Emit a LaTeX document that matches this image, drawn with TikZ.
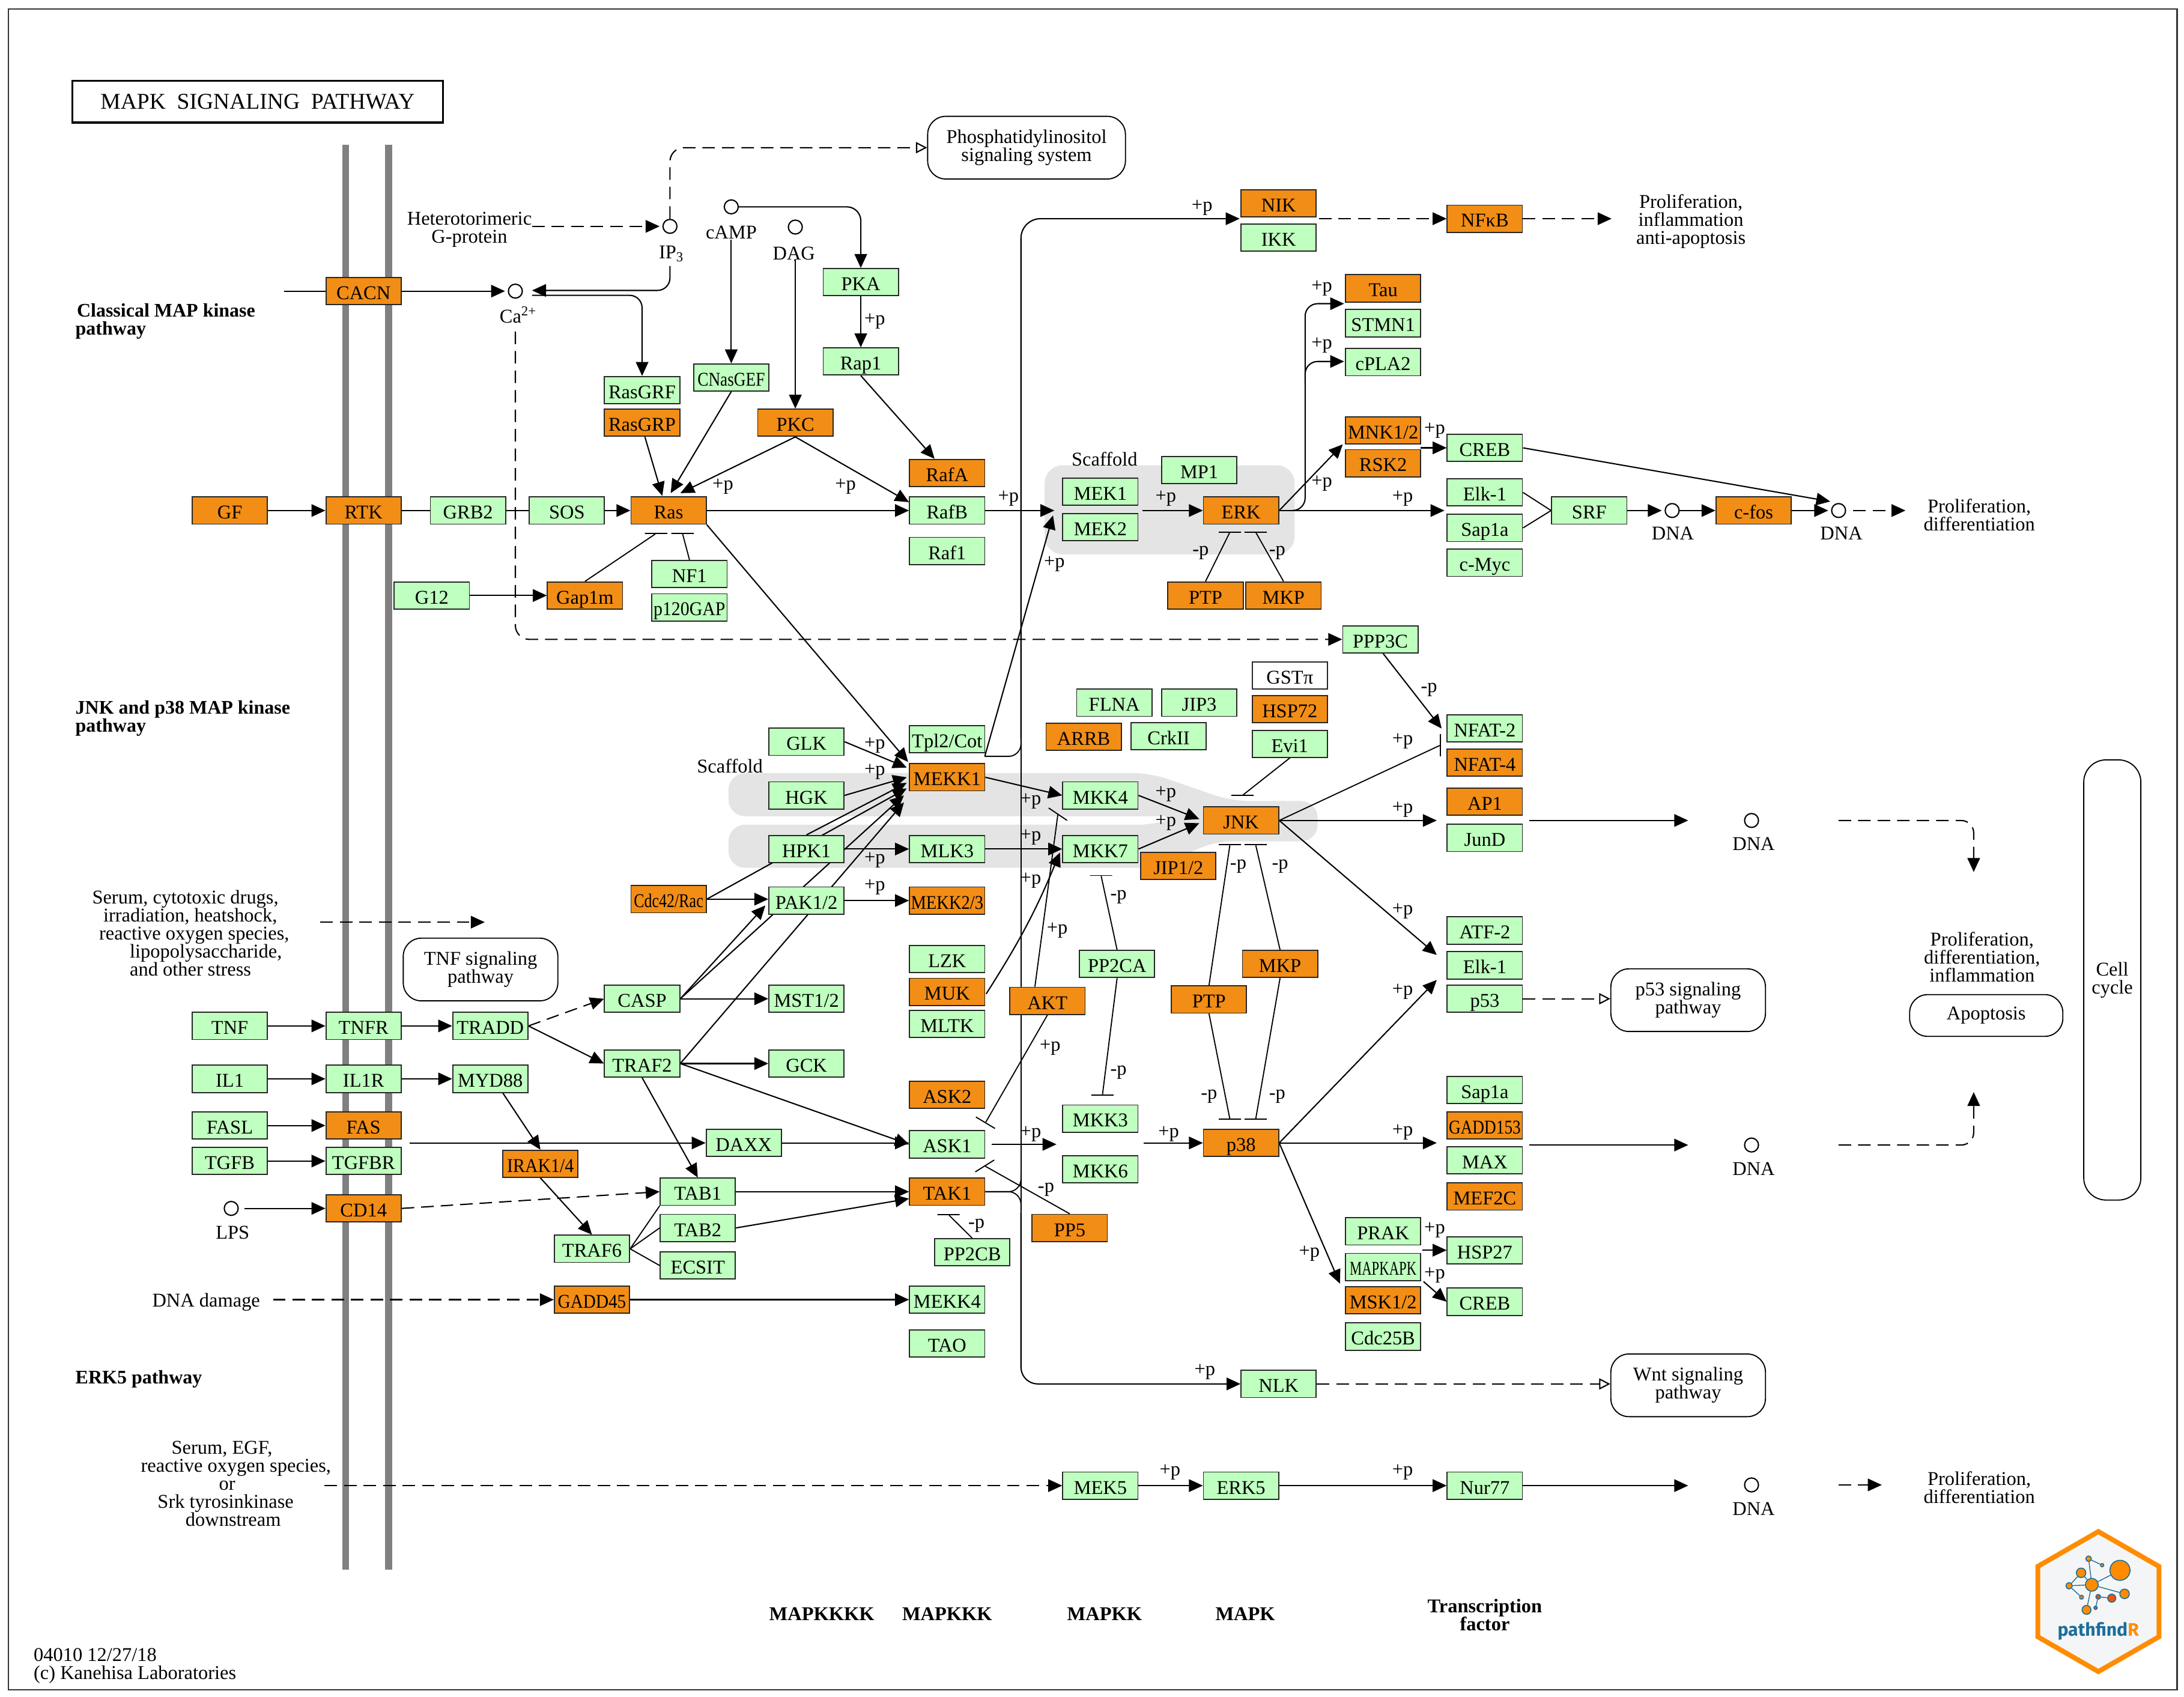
\documentclass[tikz,border=0pt]{standalone}
\usepackage{fontspec}
\setmainfont{Liberation Serif}
\newfontfamily\logofont{Fira Sans}
\usetikzlibrary{
    arrows.meta,
    backgrounds,
    calc}
\definecolor{keggorange}{HTML}{F28D16}
\definecolor{kegggreen}{HTML}{BFFFBF}
\definecolor{scaffoldgray}{HTML}{E4E4E4}
\definecolor{membranegray}{HTML}{808080}
\definecolor{logoorange}{HTML}{FF8C00}
\definecolor{logored}{HTML}{F4510B}
\definecolor{logoblue}{HTML}{1C6E99}
\definecolor{logopale}{HTML}{F4F5F7}
\newcommand{\sqz}[2]{\scalebox{#1}[1]{#2}}
\tikzset{gene/.style={draw=black!85, line width=0.8pt, minimum width=54pt, minimum height=19.5pt, inner sep=0pt,
            font=\fontsize{14}{14}\selectfont, text height=12pt, text depth=0pt}}
\tikzset{gr/.style={gene, fill=kegggreen}}
\tikzset{og/.style={gene, fill=keggorange}}
\tikzset{cpd/.style={draw, circle, minimum size=10pt, inner sep=0pt, line width=0.9pt, fill=white}}
\tikzset{lab/.style={inner sep=0pt, align=center, font=\fontsize{14}{12.9}\selectfont}}
\tikzset{hdr/.style={inner sep=0pt, align=left, anchor=west, font=\fontsize{13.8}{12.9}\selectfont\bfseries}}
\tikzset{clm/.style={lab, font=\fontsize{14}{13}\selectfont\bfseries}}
\tikzset{pth/.style={draw, rounded corners=13pt, fill=white, inner sep=0pt, align=center, line width=0.8pt,
            font=\fontsize{14}{12.9}\selectfont}}
\tikzset{tbar/.style={draw, rectangle, minimum width=16pt, minimum height=0pt, inner sep=0pt, line width=0.8pt}}
\tikzset{lin/.style={line width=0.8pt}}
\tikzset{act/.style={-{Triangle[length=10pt,width=9pt]}, line width=0.9pt}}
\tikzset{actd/.style={act, line width=0.9pt, dash pattern=on 9pt off 5pt}}
\tikzset{opn/.style={-{Triangle[open,length=8pt,width=8pt]}, line width=0.9pt, dash pattern=on 9pt off 5pt}}
\tikzset{lgo/.style={draw=logoblue, line width=0.7pt, circle, inner sep=0pt, fill=logoorange}}
\tikzset{lgr/.style={lgo, fill=logored}}
\begin{document}
\begin{tikzpicture}[x=1pt, y=-1pt]
    \useasboundingbox (0,0) rectangle (1568,1218);

    % title
    \node(title)[draw, line width=1.6pt, minimum width=266pt, minimum height=30pt, font=\fontsize{16.2}{16.2}\selectfont] at (185,73){MAPK\ \ SIGNALING\ \ PATHWAY\hspace{11pt}};

    % classical row
    \node(CACN)[og] at (261,209){CACN};
    \node(GF)[og] at (165,366.5){GF};
    \node(RTK)[og] at (261,366.5){RTK};
    \node(GRB2)[gr] at (336,366.5){GRB2};
    \node(SOS)[gr] at (407,366.5){SOS};
    \node(Ras)[og] at (480,366.5){Ras};
    \node(RasGRF)[gr] at (461,280){RasGRF};
    \node(RasGRP)[og] at (461,303.5){RasGRP};
    \node(CNasGEF)[gr] at (525,271){\sqz{0.84}{CNasGEF}};
    \node(PKC)[og] at (571,303.5){PKC};
    \node(PKA)[gr] at (618,202.5){PKA};
    \node(Rap1)[gr] at (618,259.5){Rap1};
    \node(RafA)[og] at (680,339.5){RafA};
    \node(RafB)[gr] at (680,366.5){RafB};
    \node(Raf1)[gr] at (680,395.5){Raf1};
    \node(G12)[gr] at (310,427.5){G12};
    \node(Gap1m)[og] at (420,427.5){Gap1m};
    \node(NF1)[gr] at (495,412){NF1};
    \node(p120GAP)[gr] at (495,436){\sqz{0.92}{p120GAP}};
    \node(MEK1)[gr] at (790,353){MEK1};
    \node(MEK2)[gr] at (790,378.5){MEK2};
    \node(MP1)[gr] at (861,337.5){MP1};
    \node(ERK)[og] at (891,366.5){ERK};
    \node(PTPa)[og] at (865.5,427.5){PTP};
    \node(MKPa)[og] at (921.5,427.5){MKP};
    \node(NIK)[og] at (918,146){NIK};
    \node(IKK)[gr] at (918,170.5){IKK};
    \node(NFkB)[og] at (1066,157){NFκB};
    \node(Tau)[og] at (993,207){Tau};
    \node(STMN1)[gr] at (993,232){STMN1};
    \node(cPLA2)[gr] at (993,260){cPLA2};
    \node(MNK)[og] at (993,309){MNK1/2};
    \node(RSK2)[og] at (993,332.5){RSK2};
    \node(CREBa)[gr] at (1066,321.5){CREB};
    \node(ElkA)[gr] at (1066,353.5){Elk-1};
    \node(SapA)[gr] at (1066,379){Sap1a};
    \node(cMyc)[gr] at (1066,404){c-Myc};
    \node(SRF)[gr] at (1141,366.5){SRF};
    \node(cfos)[og] at (1259,366.5){c-fos};
    \node(PPP3C)[gr] at (991,459){PPP3C};

    % JNK and p38 part
    \node(NFATb)[gr] at (1066,523){NFAT-2};
    \node(NFATd)[og] at (1066,547.5){NFAT-4};
    \node(AP1)[og] at (1066,575.5){AP1};
    \node(JunD)[gr] at (1066,601.5){JunD};
    \node(GST)[gene, fill=white] at (926,485){GSTπ};
    \node(HSP72)[og] at (926,509){HSP72};
    \node(Evi1)[gr] at (926,534){Evi1};
    \node(FLNA)[gr] at (800,504.5){FLNA};
    \node(JIP3)[gr] at (861,504.5){JIP3};
    \node(ARRB)[og] at (778,529){ARRB};
    \node(CrkII)[gr] at (839,528.5){CrkII};
    \node(GLK)[gr] at (579,532.5){GLK};
    \node(HGK)[gr] at (579,571){HGK};
    \node(HPK1)[gr] at (579,609.5){HPK1};
    \node(Tpl2)[gr] at (680,530.5){Tpl2/Cot};
    \node(MEKK1)[og] at (680,558){MEKK1};
    \node(MLK3)[gr] at (680,609.5){MLK3};
    \node(MKK4)[gr] at (790,571){MKK4};
    \node(MKK7)[gr] at (790,609.5){MKK7};
    \node(JNK)[og] at (891,589){JNK};
    \node(JIP12)[og] at (846,621.5){JIP1/2};
    \node(Cdc42)[og] at (480,645.5){\sqz{0.8}{Cdc42/Rac}};
    \node(PAK)[gr] at (579,646.5){PAK1/2};
    \node(MEKK23)[og] at (680,646.5){\sqz{0.88}{MEKK2/3}};
    \node(LZK)[gr] at (680,688.5){LZK};
    \node(MUK)[og] at (680,712){MUK};
    \node(MLTK)[gr] at (680,735){MLTK};
    \node(AKT)[og] at (752,718.5){AKT};
    \node(PP2CA)[gr] at (802,692){PP2CA};
    \node(PTPb)[og] at (868,717.5){PTP};
    \node(MKPb)[og] at (919,692){MKP};
    \node(TNF)[gr] at (165,736.5){TNF};
    \node(TNFR)[gr] at (261,736.5){TNFR};
    \node(TRADD)[gr] at (352,736.5){TRADD};
    \node(CASP)[gr] at (461,717){CASP};
    \node(MST)[gr] at (579,717){MST1/2};
    \node(TRAF2)[gr] at (461,763.5){TRAF2};
    \node(GCK)[gr] at (579,763.5){GCK};
    \node(IL1)[gr] at (165,774.5){IL1};
    \node(IL1R)[gr] at (261,774.5){IL1R};
    \node(MYD88)[gr] at (352,774.5){MYD88};
    \node(FASL)[gr] at (165,808){FASL};
    \node(FAS)[og] at (261,808){FAS};
    \node(TGFB)[gr] at (165,833.5){TGFB};
    \node(TGFBR)[gr] at (261,833.5){TGFBR};
    \node(IRAK)[og] at (388,835.5){\sqz{0.92}{IRAK1/4}};
    \node(DAXX)[gr] at (534,820.5){DAXX};
    \node(ASK2)[og] at (680,786){ASK2};
    \node(ASK1)[gr] at (680,821.5){ASK1};
    \node(TAK1)[og] at (680,855.5){TAK1};
    \node(MKK3)[gr] at (790,803){MKK3};
    \node(MKK6)[gr] at (790,839.5){MKK6};
    \node(p38)[og] at (891,820.5){p38};
    \node(PP5)[og] at (768,881.5){PP5};
    \node(PP2CB)[gr] at (698,899){PP2CB};
    \node(CD14)[og] at (261,867.5){CD14};
    \node(TAB1)[gr] at (501,855.5){TAB1};
    \node(TAB2)[gr] at (501,881.5){TAB2};
    \node(ECSIT)[gr] at (501,908.5){ECSIT};
    \node(TRAF6)[gr] at (425,896.5){TRAF6};
    \node(GADD45)[og] at (425,933){\sqz{0.9}{GADD45}};
    \node(MEKK4)[gr] at (680,933){MEKK4};
    \node(TAO)[gr] at (680,964.5){TAO};
    \node(NLK)[gr] at (918,993.5){NLK};
    \node(ATF2)[gr] at (1066,668){ATF-2};
    \node(ElkB)[gr] at (1066,693){Elk-1};
    \node(p53)[gr] at (1066,717){p53};
    \node(SapB)[gr] at (1066,782.5){Sap1a};
    \node(GADD153)[og] at (1066,808){\sqz{0.84}{GADD153}};
    \node(MAX)[gr] at (1066,833){MAX};
    \node(MEF2C)[og] at (1066,859){MEF2C};
    \node(PRAK)[gr] at (993,884){PRAK};
    \node(MAPKAPK)[gr] at (993,909.5){\sqz{0.7}{MAPKAPK}};
    \node(MSK)[og] at (993,933.5){MSK1/2};
    \node(Cdc25B)[gr] at (993,959.5){Cdc25B};
    \node(HSP27)[gr] at (1066,897.5){HSP27};
    \node(CREBb)[gr] at (1066,934.5){CREB};

    % ERK5 part
    \node(MEK5)[gr] at (790,1066.5){MEK5};
    \node(ERK5)[gr] at (891,1066.5){ERK5};
    \node(Nur77)[gr] at (1066,1066.5){Nur77};

    % other pathways
    \node(Phos)[pth, minimum width=142pt, minimum height=45pt] at (737,106){Phosphatidylinositol\\signaling system};
    \node(TNFpth)[pth, minimum width=111pt, minimum height=45pt] at (345,696){TNF signaling\\pathway};
    \node(p53pth)[pth, minimum width=111pt, minimum height=45pt] at (1212,718){p53 signaling\\pathway};
    \node(Wntpth)[pth, minimum width=111pt, minimum height=45pt] at (1212,994.5){Wnt signaling\\pathway};
    \node(Apo)[pth, minimum width=110pt, minimum height=30pt] at (1426,729){Apoptosis};
    \node(Cycle)[pth, rounded corners=16pt, minimum width=41pt, minimum height=316pt] at (1516.5,703.5){Cell\\cycle};

    % compounds
    \node(IP3)[cpd] at (481,162.5){};
    \node(IP3lab)[lab] at (482,182){IP\textsubscript{3}};
    \node(Ca)[cpd] at (370,209){};
    \node(Calab)[lab] at (372,226){Ca\textsuperscript{2+}};
    \node(cAMP)[cpd] at (525,148.5){};
    \node(cAMPlab)[lab] at (525,167){cAMP};
    \node(DAG)[cpd] at (571,163){};
    \node(DAGlab)[lab] at (570,182){DAG};
    \node(dnaA)[cpd] at (1200.5,366.5){};
    \node(dnaAlab)[lab] at (1201,383){DNA};
    \node(dnaB)[cpd] at (1320,366.5){};
    \node(dnaBlab)[lab] at (1322,383){DNA};
    \node(dnaC)[cpd] at (1257.5,589){};
    \node(dnaClab)[lab] at (1259,606){DNA};
    \node(dnaD)[cpd] at (1257.5,822){};
    \node(dnaDlab)[lab] at (1259,839){DNA};
    \node(dnaE)[cpd] at (1257.5,1066){};
    \node(dnaElab)[lab] at (1259,1083){DNA};
    \node(LPS)[cpd] at (166,867.5){};
    \node(LPSlab)[lab] at (167,885){LPS};

    % texts
    \node(HetG)[lab] at (337,165){Heterotorimeric\\G-protein};
    \node(prA)[lab] at (1214,159){Proliferation,\\inflammation\\anti-apoptosis};
    \node(prB)[lab] at (1421,369.5){Proliferation,\\differentiation};
    \node(prC)[lab] at (1423,687){Proliferation,\\differentiation,\\inflammation};
    \node(prD)[lab] at (1421,1068){Proliferation,\\differentiation};
    \node(stress)[lab, align=left, anchor=west] at (66,670){Serum, cytotoxic drugs,\\\hspace{8pt}irradiation, heatshock,\\\hspace{5pt}reactive oxygen species,\\\hspace{27pt}lipopolysaccharide,\\\hspace{27pt}and other stress};
    \node(damage)[lab] at (148,935){DNA damage};
    \node(serum)[lab, align=left, anchor=west] at (101,1065){\hspace{22pt}Serum, EGF,\\reactive oxygen species,\\\hspace{56pt}or\\\hspace{12pt}Srk tyrosinkinase\\\hspace{32pt}downstream};
    \node(scafA)[lab] at (793,329.5){Scaffold};
    \node(scafB)[lab] at (524,550){Scaffold};
    \node(hdrA)[hdr] at (54,230.5){\hspace{1pt}Classical MAP kinase\\pathway};
    \node(hdrB)[hdr] at (54,515.5){JNK and p38 MAP kinase\\pathway};
    \node(hdrC)[hdr] at (54,990){ERK5 pathway};
    \node(colA)[clm] at (590,1158.5){MAPKKKK};
    \node(colB)[clm] at (680,1158.5){MAPKKK};
    \node(colC)[clm] at (793,1158.5){MAPKK};
    \node(colD)[clm] at (894,1158.5){MAPK};
    \node(colE)[clm] at (1066,1159.5){Transcription\\factor};
    \node(stamp)[lab, align=left, anchor=west] at (24,1196){04010 12/27/18\\(c) Kanehisa Laboratories};

    % phosphorylation marks
    \node(pa)[lab] at (519,349){+p};
    \node(pb)[lab] at (607,349){+p};
    \node(pc)[lab] at (724,358){+p};
    \node(pd)[lab] at (757,405){+p};
    \node(pe)[lab] at (628,230.5){+p};
    \node(pf)[lab] at (863,149){+p};
    \node(pg)[lab] at (837,358){+p};
    \node(ph)[lab] at (1007,358){+p};
    \node(pi)[lab] at (1030,309){+p};
    \node(pj)[lab] at (949,207){+p};
    \node(pk)[lab] at (949,248){+p};
    \node(pl)[lab] at (949,347){+p};
    \node(pm)[lab] at (628,535){+p};
    \node(pn)[lab] at (628,554){+p};
    \node(po)[lab] at (628,617.5){+p};
    \node(pq)[lab] at (628,637){+p};
    \node(pr)[lab] at (740,575){+p};
    \node(ps)[lab] at (740,601){+p};
    \node(pt)[lab] at (740,632){+p};
    \node(pu)[lab] at (759,668){+p};
    \node(pv)[lab] at (754,752){+p};
    \node(pw)[lab] at (837,570){+p};
    \node(px)[lab] at (837,590.5){+p};
    \node(py)[lab] at (1007,532){+p};
    \node(pz)[lab] at (1007,581){+p};
    \node(paa)[lab] at (1007,654){+p};
    \node(pab)[lab] at (1007,712){+p};
    \node(pac)[lab] at (1007,813){+p};
    \node(pad)[lab] at (740,814){+p};
    \node(pae)[lab] at (839,814){+p};
    \node(paf)[lab] at (940,900){+p};
    \node(pag)[lab] at (1030,883){+p};
    \node(pah)[lab] at (1030,915.5){+p};
    \node(pai)[lab] at (865,985){+p};
    \node(paj)[lab] at (840,1057){+p};
    \node(pak)[lab] at (1007,1057){+p};

    % dephosphorylation marks
    \node(ma)[lab] at (862,397){-p};
    \node(mb)[lab] at (917,397){-p};
    \node(mc)[lab] at (1026,495){-p};
    \node(md)[lab] at (889,622){-p};
    \node(me)[lab] at (919,622){-p};
    \node(mf)[lab] at (803,644){-p};
    \node(mg)[lab] at (803,770){-p};
    \node(mh)[lab] at (868,787){-p};
    \node(mi)[lab] at (917,787){-p};
    \node(mj)[lab] at (751,854){-p};
    \node(mk)[lab] at (701,880){-p};

    % inhibition bars
    \node(barRasA)[tbar] at (471,383){};
    \node(barRasB)[tbar] at (490,383){};
    \node(barErkA)[tbar] at (883,382){};
    \node(barErkB)[tbar] at (901.5,382){};
    \node(barJnkT)[tbar] at (892,571){};
    \node(barJnkA)[tbar] at (883,606.5){};
    \node(barJnkB)[tbar] at (901.5,606.5){};
    \node(barP38A)[tbar] at (883,803.5){};
    \node(barP38B)[tbar] at (901.5,803.5){};
    \node(barMkk7)[tbar] at (790.5,628.5){};
    \node(barMkk3)[tbar] at (791.5,786){};
    \node(barNfat)[tbar, rotate=90] at (1034,535){};
    \node(barTak)[tbar] at (681,872){};
    \node(barAskA)[tbar, rotate=-31] at (707.5,806){};
    \node(barAskB)[tbar, rotate=32] at (707,837){};
    \node(barAkt)[tbar, rotate=-34] at (759.5,584.5){};

    % free ends
    \coordinate(cacnIn) at (204,209);
    \coordinate(hetOut) at (382,162.5);
    \coordinate(ipDown) at (481,191);
    \coordinate(caTip) at (382,208.5);
    \coordinate(caOut) at (382,212);
    \coordinate(caDash) at (370,238);
    \coordinate(rasTipA) at (475.5,356);
    \coordinate(rasTipB) at (481.5,354);
    \coordinate(rasTipC) at (488.5,354);
    \coordinate(mekIn) at (757,366.5);
    \coordinate(mekInB) at (756,370);
    \coordinate(mekOut) at (820,366.5);
    \coordinate(erkOut) at (930,366.5);
    \coordinate(erkBusA) at (937,240);
    \coordinate(erkBusB) at (937,275);
    \coordinate(tauTip) at (965,218);
    \coordinate(cplaTip) at (965,259.5);
    \coordinate(mnkTip) at (964,319);
    \coordinate(tfTipA) at (1037,366.5);
    \coordinate(mnkOut) at (1020,321.5);
    \coordinate(fosTip) at (1314,360);
    \coordinate(nikTip) at (890,157);
    \coordinate(nikOut) at (947,157);
    \coordinate(prAin) at (1157,157);
    \coordinate(prBin) at (1368,366.5);
    \coordinate(tplOut) at (707,543);
    \coordinate(tplBus) at (733,530);
    \coordinate(takUp) at (733,842);
    \coordinate(takDown) at (733,870);
    \coordinate(mekkA) at (651,551);
    \coordinate(mekkB) at (651,558);
    \coordinate(mekkC) at (651,562);
    \coordinate(mekkD) at (651,566);
    \coordinate(mekkE) at (649,571);
    \coordinate(mekkF) at (649,576);
    \coordinate(mekkG) at (652,547);
    \coordinate(pakTip) at (549.5,650);
    \coordinate(mukOut) at (708,713.5);
    \coordinate(mkkTip) at (761,612);
    \coordinate(jnkTipA) at (861,588);
    \coordinate(jnkTipB) at (861,591);
    \coordinate(nfatTip) at (1035,523);
    \coordinate(jnOut) at (1031.5,589);
    \coordinate(jnOutB) at (1031.5,685.5);
    \coordinate(p38OutA) at (1031.5,703.5);
    \coordinate(p38OutB) at (1031.5,820.5);
    \coordinate(mskTip) at (962,921.5);
    \coordinate(dnaInA) at (1098,589);
    \coordinate(dnaEndA) at (1212,589);
    \coordinate(dnaInB) at (1098,822);
    \coordinate(dnaEndB) at (1212,822);
    \coordinate(apoOutA) at (1320,589);
    \coordinate(apoEndA) at (1417,626);
    \coordinate(apoOutB) at (1320,822);
    \coordinate(apoEndB) at (1417,784);
    \coordinate(stressOut) at (230,662);
    \coordinate(stressEnd) at (348,662);
    \coordinate(askOut) at (712,821.5);
    \coordinate(askEnd) at (758.5,821.5);
    \coordinate(p38In) at (821,820.5);
    \coordinate(fasOut) at (294,820.5);
    \coordinate(damOut) at (196,933);
    \coordinate(serOut) at (233,1066.5);
    \coordinate(nurOut) at (1093,1066.5);
    \coordinate(dnaEndC) at (1212,1066.5);
    \coordinate(prDout) at (1320,1066);
    \coordinate(prDin) at (1351,1066);
    \coordinate(prkOut) at (1021,897.5);
    \coordinate(prkOutB) at (1022,920);

    % logo
    \draw[line width=3.5pt, logoorange, fill=logopale, line join=miter] (1506.5,1099.5)--(1550,1124.5)--(1550,1175)--(1506.5,1200)--(1463,1175)--(1463,1124.5)--cycle;
    \node(logoA)[lgo, minimum size=14.4pt] at (1522,1127.3){};
    \node(logoB)[lgo, minimum size=9.2pt] at (1501.8,1137.7){};
    \node(logoC)[lgo, minimum size=6.8pt] at (1494.1,1129.1){};
    \node(logoD)[lgo, minimum size=4pt] at (1499.5,1119){};
    \node(logoE)[lgo, minimum size=2.4pt] at (1509.2,1123.6){};
    \node(logoF)[lgo, minimum size=4.6pt] at (1485.5,1138.4){};
    \node(logoG)[lgo, minimum size=2.8pt] at (1494.4,1146.6){};
    \node(logoH)[lgo, minimum size=6.4pt] at (1498,1155.7){};
    \node(logoI)[lgr, minimum size=2.4pt] at (1504.5,1154.2){};
    \node(logoJ)[lgr, minimum size=3.4pt] at (1506.4,1146.3){};
    \node(logoK)[lgr, minimum size=5.8pt] at (1516.1,1147.3){};
    \node(logoL)[lgo, minimum size=6.8pt] at (1525.3,1144.2){};
    \node(logoTxt)[inner sep=0pt, font=\logofont\bfseries\fontsize{13}{13}\selectfont] at (1506.4,1171){\textcolor{logoblue}{pathfind}\textcolor{logoorange}{R}};
    \draw[logoblue, line width=0.6pt] (logoB)--(logoA) (logoB)--(logoC) (logoB)--(logoD) (logoD)--(logoE) (logoB)--(logoF) (logoF)--(logoC) (logoF)--(logoG) (logoB)--(logoL) (logoB)--(logoH) (logoJ)--(logoK) (logoJ)--(logoI);

    \begin{scope}[on background layer]
        % frame
        \draw[line width=1pt, black!80, fill=white] (6,6.5) rectangle (1563,1213);

        % membrane
        \draw[membranegray, line width=4.8pt] (248,104)--(248,1127);
        \draw[membranegray, line width=4.8pt] (279,104)--(279,1127);

        % scaffolds
        \fill[scaffoldgray, rounded corners=13pt] (750,334) rectangle (929.5,398);
        \fill[scaffoldgray, rounded corners=12pt] (523,555)--(826,555)--(884,575)--(946,575)--(946,604)--(872,604)--(830,623)--(523,623)--(523,592)--(830,592)--(846,586)--(523,586)--cycle;

        % classical
        \draw[lin] (cacnIn)--(CACN);
        \draw[act, shorten >=2pt] (CACN)--(Ca);
        \draw[actd, shorten >=2pt] (hetOut)--(IP3);
        \draw[opn, rounded corners=10pt] (IP3.north) |- (Phos.west);
        \draw[act, rounded corners=9pt] (ipDown) |- (caTip);
        \draw[act, rounded corners=9pt] (caOut) -| (RasGRF.north);
        \draw[actd, rounded corners=10pt] (caDash) |- (PPP3C.west);
        \draw[act] (cAMPlab.south)--(CNasGEF.north);
        \draw[act, rounded corners=10pt] (cAMP.east) -| (PKA.north);
        \draw[act] (DAGlab.south)--(DAGlab.south-|PKC.north)--(PKC.north);
        \draw[act] (PKA)--(Rap1);
        \draw[act] (Rap1.south)--(RafA);
        \draw[act] ([xshift=2pt]RasGRP.south)--(rasTipA);
        \draw[act] (CNasGEF.south)--(rasTipB);
        \draw[act] (PKC.south)--(rasTipC);
        \draw[act] (PKC.south)--([yshift=6pt]RafB.west);
        \draw[act] (GF)--(RTK);
        \draw[lin] (RTK)--(GRB2);
        \draw[lin] (GRB2)--(SOS);
        \draw[act] (SOS)--(Ras);
        \draw[act] (Ras)--(RafB);
        \draw[act] (RafB)--(mekIn);
        \draw[act] (tplOut)--(mekInB);
        \draw[act] (mekOut)--(ERK);
        \draw[act] (G12)--(Gap1m);
        \draw[lin] (Gap1m.north)--(barRasA);
        \draw[lin] (NF1.north)--(barRasB);
        \draw[lin] (PTPa.north)--(barErkA);
        \draw[lin] (MKPa.north)--(barErkB);
        \draw[act] (ERK)--(tfTipA);
        \draw[act] (ERK.east)--(mnkTip);
        \draw[act, rounded corners=9pt] (erkOut) -| (erkBusA) |- (tauTip);
        \draw[act, rounded corners=9pt] (erkBusB) |- (cplaTip);
        \draw[act] (mnkOut)--(CREBa);
        \draw[lin] (ElkA.east)--(SRF.west);
        \draw[lin] (SapA.east)--(SRF.west);
        \draw[act, shorten >=2pt] (SRF)--(dnaA);
        \draw[act] (dnaA)--(cfos);
        \draw[act, shorten >=2pt] (cfos)--(dnaB);
        \draw[act] (CREBa.east)--(fosTip);
        \draw[actd, shorten <=5pt] (dnaB)--(prBin);
        \draw[actd] (nikOut)--(NFkB.west);
        \draw[actd] (NFkB)--(prAin);

        % long bus
        \draw[act, rounded corners=14pt] (tplBus) |- (nikTip);
        \draw[act, rounded corners=12pt] (takDown) |- (NLK.west);
        \draw[lin] (tplBus)--(takDown);
        \draw[lin, rounded corners=9pt] (tplOut) -| (tplBus);
        \draw[lin, rounded corners=9pt] (TAK1.east) -| (takUp);
        \draw[lin, rounded corners=9pt] (TAK1.east) -| (takDown);
        \draw[opn] (NLK)--(NLK-|Wntpth.west);

        % JNK and p38
        \draw[act] (Ras.south east)--(mekkG);
        \draw[act] (GLK.east)--(mekkA);
        \draw[act] (HGK.east)--(mekkB);
        \draw[act] (HPK1.north)--(mekkC);
        \draw[act] (Cdc42.east)--(mekkD);
        \draw[act] (CASP.east)--(mekkE);
        \draw[act] (TRAF2.east)--(mekkF);
        \draw[act] (CASP.east)--(pakTip);
        \draw[act] (Cdc42)--(Cdc42-|PAK.west);
        \draw[act] (HPK1)--(MLK3);
        \draw[act] (PAK)--(MEKK23);
        \draw[act] (CASP)--(MST);
        \draw[act] (TRAF2)--(GCK);
        \draw[act] (TRAF2.east)--(ASK1.west);
        \draw[act] (DAXX)--(DAXX-|ASK1.west);
        \draw[actd] (TRADD.east)--(CASP.west);
        \draw[act] (TRADD.east)--(TRAF2.west);
        \draw[act] (MEKK1.east)--(MKK4.west);
        \draw[act] (MLK3)--(MKK7);
        \draw[act] (mukOut) to[bend right=5] (mkkTip);
        \draw[lin] ([xshift=-9pt]AKT.north)--(barAkt);
        \draw[lin] (AKT.south)--(barAskA);
        \draw[lin] (PP5.north)--(barAskB);
        \draw[lin] (PP2CB.north)--(barTak);
        \draw[act] (MKK4.east)--(jnkTipA);
        \draw[act] (MKK7.east)--(jnkTipB);
        \draw[lin] (Evi1.south)--(barJnkT);
        \draw[lin] (PP2CA.north)--(barMkk7);
        \draw[lin] (PP2CA.south)--(barMkk3);
        \draw[lin] (PTPb.north)--(barJnkA);
        \draw[lin] (MKPb.north)--(barJnkB);
        \draw[lin] (PTPb.south)--(barP38A);
        \draw[lin] (MKPb.south)--(barP38B);
        \draw[act] ([xshift=2pt]PPP3C.south)--(nfatTip);
        \draw[lin] (JNK.east)--(barNfat);
        \draw[act] (JNK)--(jnOut);
        \draw[act] (JNK.east)--(jnOutB);
        \draw[act] (p38.east)--(p38OutA);
        \draw[act] (p38)--(p38OutB);
        \draw[act] (p38.east)--(mskTip);
        \draw[act] (dnaInA)--(dnaEndA);
        \draw[act] (dnaInB)--(dnaEndB);
        \draw[actd, rounded corners=9pt] (apoOutA) -| (apoEndA);
        \draw[actd, rounded corners=9pt] (apoOutB) -| (apoEndB);
        \draw[opn] (p53)--(p53-|p53pth.west);
        \draw[actd] (stressOut)--(stressEnd);
        \draw[act] (askOut)--(askEnd);
        \draw[act] (p38In)--(p38);
        \draw[act] (prkOut)--(HSP27);
        \draw[act] (prkOutB)--(CREBb.west);

        % receptors
        \draw[act] (TNF)--(TNFR);
        \draw[act] (TNFR)--(TRADD);
        \draw[act] (IL1)--(IL1R);
        \draw[act] (IL1R)--(MYD88);
        \draw[act] (FASL)--(FAS);
        \draw[act] (TGFB)--(TGFBR);
        \draw[act, shorten <=4pt] (LPS)--(CD14);
        \draw[act] ([xshift=9pt]MYD88.south)--(IRAK.north);
        \draw[act] (IRAK.south)--(TRAF6.north);
        \draw[act] (fasOut)--(DAXX.west);
        \draw[act] (TRAF2.south)--(TAB1.north);
        \draw[actd] (CD14.east)--(TAB1.west);
        \draw[lin] (TRAF6.east)--(TAB1.south west);
        \draw[lin] (TRAF6.east)--(TAB2.west);
        \draw[lin] (TRAF6.east)--(ECSIT.west);
        \draw[act] (TAB1)--(TAK1);
        \draw[act] (TAB2.east)--([yshift=-5pt]TAK1.west);
        \draw[actd] (damOut)--(GADD45);
        \draw[act] (GADD45)--(MEKK4);

        % ERK5
        \draw[actd] (serOut)--(MEK5);
        \draw[act] (MEK5)--(ERK5);
        \draw[act] (ERK5)--(Nur77);
        \draw[act] (nurOut)--(dnaEndC);
        \draw[actd] (prDout)--(prDin);
    \end{scope}

\end{tikzpicture}
\end{document}
